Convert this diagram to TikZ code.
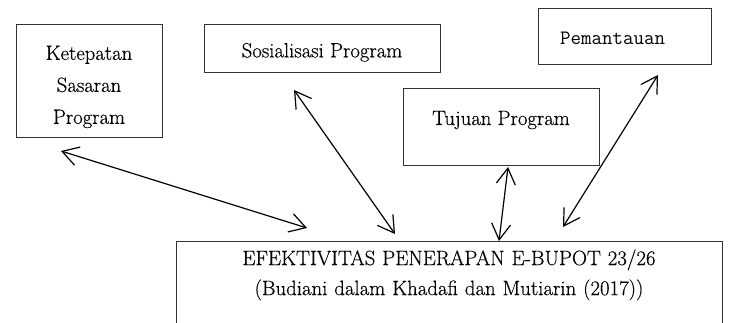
\documentclass[tikz,border=0pt]{standalone}
\usepackage{fontspec}
\setmainfont{Latin Modern Roman}[FakeBold=0.4]
\usetikzlibrary{arrows.meta}
\tikzset{
  box/.style={draw=black!80, line width=1pt, inner sep=0pt, font=\fontsize{20.7}{32}\selectfont},
  link/.style={line width=1.2pt, {Straight Barb[length=16pt,width=19pt]}-{Straight Barb[length=16pt,width=19pt]}}
}
\begin{document}
\begin{tikzpicture}[x=1pt,y=-1pt]
\useasboundingbox (0,0) rectangle (730,323);
\clip (0,0) rectangle (730,323);
\node[box, minimum width=146pt, minimum height=113pt, align=center] (kep) at (89,81.5) {\rule{0pt}{25pt}Ketepatan\\Sasaran\\Program};
\node[box, minimum width=236pt, minimum height=48pt] (sos) at (322,49) {\rule{0pt}{21pt}Sosialisasi Program};
\node[box, minimum width=196pt, text height=36pt, text depth=41pt] (tuj) at (501,127.5) {Tujuan Program};
\node[box, minimum width=173pt, minimum height=56pt, inner xsep=22pt, text width=129pt, align=left, font=\ttfamily\fontsize{20.4}{22}\selectfont] (pem) at (624.5,37) {\rule{0pt}{15pt}Pemantauan};
\node[box, anchor=north, text width=546pt, align=center, inner ysep=8pt, text depth=60pt, font=\fontsize{20.8}{30}\selectfont] (efe) at (449,241) {EFEKTIVITAS PENERAPAN E-BUPOT 23/26\\(Budiani dalam Khadafi dan Mutiarin (2017))};
\coordinate (a1s) at (61,151);
\coordinate (a1e) at (307,228);
\coordinate (a2s) at (294,90);
\coordinate (a2e) at (395,234);
\coordinate (a3s) at (508,167);
\coordinate (a3e) at (499,241);
\coordinate (a4s) at (658,75);
\coordinate (a4e) at (563,227);
\draw[link] (a1s) -- (a1e);
\draw[link] (a2s) -- (a2e);
\draw[link] (a3s) -- (a3e);
\draw[link] (a4s) -- (a4e);
\end{tikzpicture}
\end{document}
